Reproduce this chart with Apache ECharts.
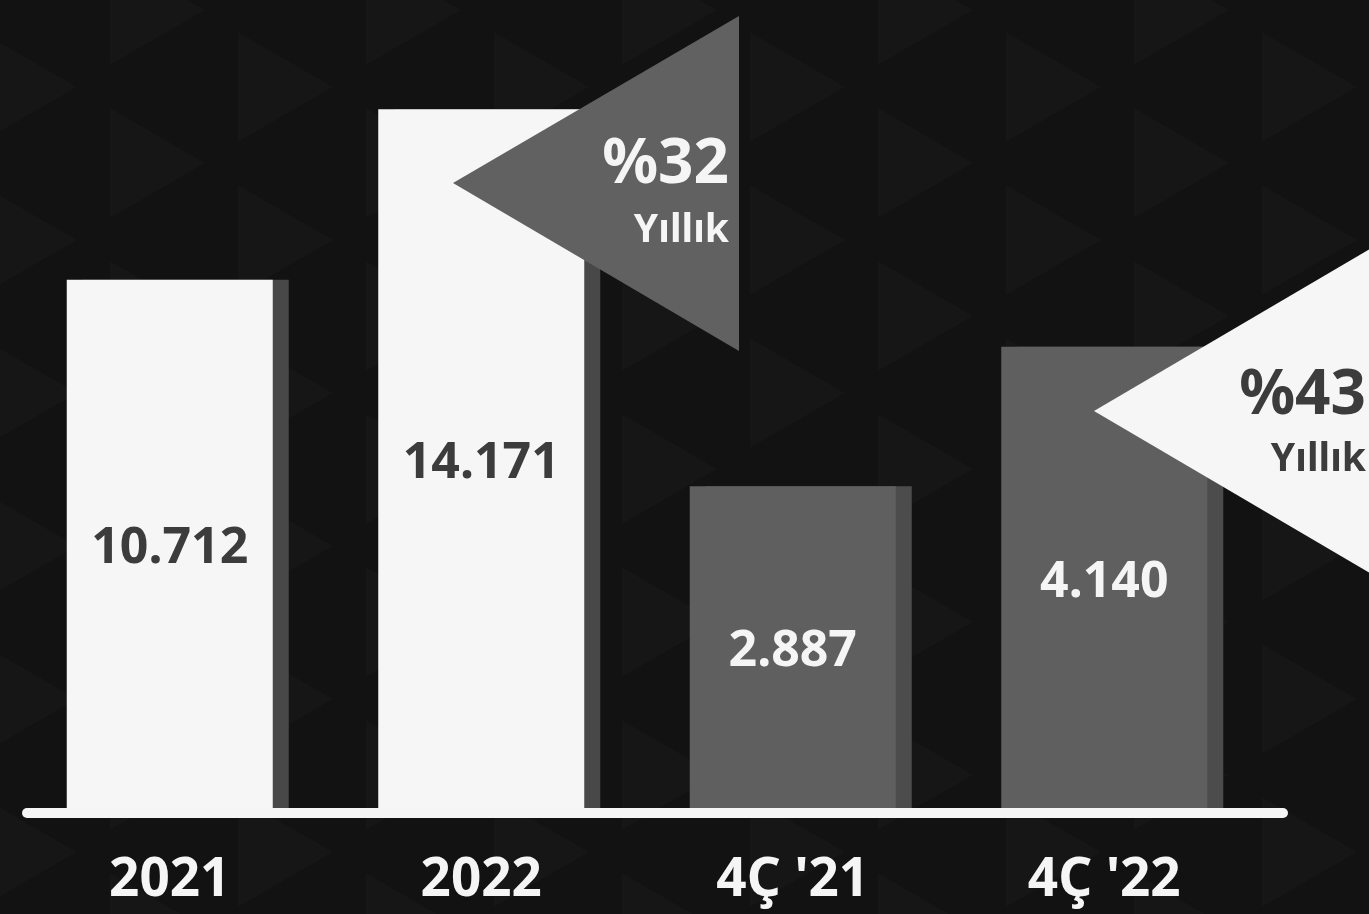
<!DOCTYPE html>
<html>
<head>
<meta charset="utf-8">
<script src="https://cdn.jsdelivr.net/npm/echarts@6/dist/echarts.min.js"></script>
<style>
html,body{margin:0;padding:0;background:#121212;}
#chart{width:1369px;height:914px;}
</style>
</head>
<body>
<div id="chart"></div>
<script>
// ---- data ----
var categories = ['2021', '2022', "4Ç '21", "4Ç '22"];
var annualValues = [10712, 14171, null, null];
var quarterValues = [null, null, 2887, 4140];
var growthLabels = ['%32', '%43'];
var growthSub = 'Yıllık';

function fmt(v) {
  return String(v).replace(/\B(?=(\d{3})+(?!\d))/g, '.');
}

var FONT = '"Noto Sans", "Open Sans", sans-serif';

// background decorative triangle pattern
var bgGraphics = [];
var colW = 128, triW = 95, triH = 110, period = 153;
for (var c = 0; c < 12; c++) {
  var x0 = -18 + c * colW;
  var yOff = (c % 2 === 0) ? 87 : 163;
  for (var r = -1; r < 7; r++) {
    var ay = yOff + r * period;
    bgGraphics.push({
      type: 'polygon', z: 0, silent: true,
      shape: { points: [[x0, ay - triH / 2], [x0 + triW, ay], [x0, ay + triH / 2]] },
      style: { fill: '#161616' }
    });
  }
}

var chart = echarts.init(document.getElementById('chart'), null, { renderer: 'canvas' });

var option = {
  backgroundColor: '#121212',
  animation: false,
  grid: { left: 14, right: 109, top: 19, bottom: 106, containLabel: false },
  xAxis: {
    type: 'category',
    data: categories,
    axisLine: { show: false },
    axisTick: { show: false },
    splitLine: { show: false },
    axisLabel: {
      color: '#f5f5f5', fontSize: 53, fontWeight: 'bold', fontFamily: FONT,
      margin: 73, verticalAlign: 'middle', interval: 0
    }
  },
  yAxis: [
    { type: 'value', min: 0, max: 16000, show: false, splitLine: { show: false } },
    { type: 'value', min: 0, max: 7080, show: false, splitLine: { show: false } }
  ],
  series: [
    {
      name: 'Yıllık', type: 'bar', yAxisIndex: 0, data: annualValues,
      barWidth: 206, barGap: '-100%',
      itemStyle: { color: '#f6f6f6', shadowColor: '#484848', shadowOffsetX: 16, shadowBlur: 0 },
      label: {
        show: true, position: 'inside', offset: [0, 5], color: '#3c3c3c', fontSize: 50, fontWeight: 'bold', fontFamily: FONT,
        formatter: function (p) { return fmt(p.value); }
      },
      emphasis: { disabled: true }
    },
    {
      name: 'Çeyrek', type: 'bar', yAxisIndex: 1, data: quarterValues,
      barWidth: 206, barGap: '-100%',
      itemStyle: { color: '#5f5f5f', shadowColor: '#4c4c4c', shadowOffsetX: 16, shadowBlur: 0 },
      label: {
        show: true, position: 'inside', offset: [0, 5], color: '#f5f5f5', fontSize: 50, fontWeight: 'bold', fontFamily: FONT,
        formatter: function (p) { return fmt(p.value); }
      },
      emphasis: { disabled: true }
    }
  ],
  graphic: bgGraphics.concat([
    {
      type: 'line', z: 50, silent: true,
      shape: { x1: 27, y1: 813, x2: 1283, y2: 813 },
      style: { stroke: '#f5f5f5', lineWidth: 10, lineCap: 'round' }
    },
    {
      type: 'polygon', z: 60, silent: true,
      shape: { points: [[453, 183], [739, 16], [739, 351]] },
      style: { fill: '#616161' }
    },
    {
      type: 'text', z: 61, silent: true, x: 729, y: 165,
      style: { text: growthLabels[0], fill: '#f5f5f5', font: 'bold 62px ' + FONT, textAlign: 'right', textVerticalAlign: 'middle' }
    },
    {
      type: 'text', z: 61, silent: true, x: 729, y: 231,
      style: { text: growthSub, fill: '#f5f5f5', font: 'bold 39px ' + FONT, textAlign: 'right', textVerticalAlign: 'middle' }
    },
    {
      type: 'polygon', z: 60, silent: true,
      shape: { points: [[1094, 411], [1380, 243], [1380, 579]] },
      style: { fill: '#f6f6f6' }
    },
    {
      type: 'text', z: 61, silent: true, x: 1366, y: 396,
      style: { text: growthLabels[1], fill: '#3c3c3c', font: 'bold 62px ' + FONT, textAlign: 'right', textVerticalAlign: 'middle' }
    },
    {
      type: 'text', z: 61, silent: true, x: 1366, y: 460,
      style: { text: growthSub, fill: '#3c3c3c', font: 'bold 39px ' + FONT, textAlign: 'right', textVerticalAlign: 'middle' }
    }
  ])
};
chart.setOption(option);
</script>
</body>
</html>
